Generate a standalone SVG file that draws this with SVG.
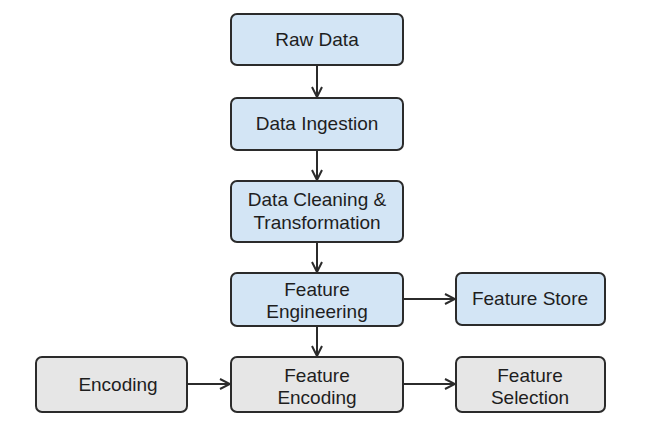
<svg xmlns="http://www.w3.org/2000/svg" width="649" height="432" viewBox="0 0 649 432">
<defs>
<style>
.blue{fill:#d3e5f5;stroke:#2b2b2b;stroke-width:2}
.gray{fill:#e6e6e6;stroke:#2b2b2b;stroke-width:2}
text{font-family:"Liberation Sans",Arial,sans-serif;font-size:19px;fill:#1e1e1e;text-anchor:middle}
.c{fill:none;stroke:#2b2b2b;stroke-width:2;marker-end:url(#ah)}
</style>
<marker id="ah" viewBox="0 0 12 12" refX="11" refY="6" markerWidth="12" markerHeight="12" markerUnits="userSpaceOnUse" orient="auto">
<path d="M1,1 L11,6 L1,11" fill="none" stroke="#2b2b2b" stroke-width="2"/>
</marker>
</defs>
<rect width="649" height="432" fill="#ffffff"/>
<g id="connectors">
<path class="c" d="M317,65 V97"/>
<path class="c" d="M317,150 V180"/>
<path class="c" d="M317,242 V272"/>
<path class="c" d="M317,326 V356"/>
<path class="c" d="M403,299 H455"/>
<path class="c" d="M187,384 H230"/>
<path class="c" d="M403,384 H455"/>
</g>
<g id="raw-data"><rect class="blue" x="231" y="14" width="172" height="51" rx="6"/><text x="317" y="46">Raw Data</text></g>
<g id="data-ingestion"><rect class="blue" x="231" y="98" width="172" height="52" rx="6"/><text x="317" y="130">Data Ingestion</text></g>
<g id="data-cleaning"><rect class="blue" x="231" y="181" width="172" height="61" rx="6"/><text x="317" y="206">Data Cleaning &amp;</text><text x="317" y="229">Transformation</text></g>
<g id="feature-engineering"><rect class="blue" x="231" y="273" width="172" height="53" rx="6"/><text x="317" y="296">Feature</text><text x="317" y="318">Engineering</text></g>
<g id="feature-store"><rect class="blue" x="456" y="273" width="149" height="52" rx="6"/><text x="530" y="305">Feature Store</text></g>
<g id="encoding"><rect class="gray" x="36" y="357" width="151" height="55" rx="6"/><text x="118" y="391">Encoding</text></g>
<g id="feature-encoding"><rect class="gray" x="231" y="357" width="172" height="55" rx="6"/><text x="317" y="382">Feature</text><text x="317" y="404">Encoding</text></g>
<g id="feature-selection"><rect class="gray" x="456" y="357" width="149" height="55" rx="6"/><text x="530" y="382">Feature</text><text x="530" y="404">Selection</text></g>
</svg>
